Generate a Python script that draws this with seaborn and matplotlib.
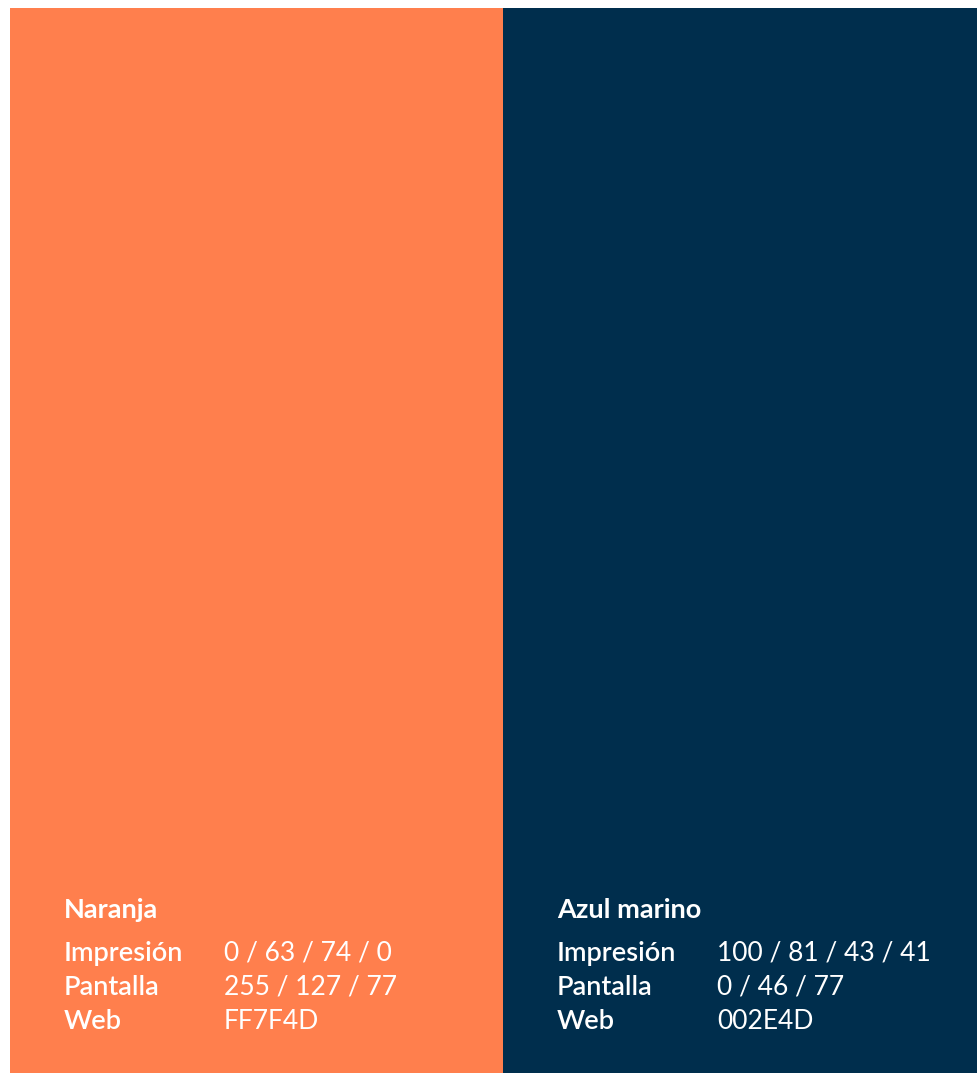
import matplotlib
matplotlib.use("Agg")
import matplotlib.pyplot as plt
import seaborn as sns
import pandas as pd

# ---- data ----
names = ["Naranja", "Azul marino"]
colors = ["#FF7F4D", "#002E4D"]
row_labels = ["Impresión", "Pantalla", "Web"]
impresion = ["0 / 63 / 74 / 0", "100 / 81 / 43 / 41"]
pantalla = ["255 / 127 / 77", "0 / 46 / 77"]
web = ["FF7F4D", "002E4D"]

sns.set_theme(style="white")
plt.rcParams["font.family"] = ["Lato", "DejaVu Sans"]

W, H = 977, 1073
fig = plt.figure(figsize=(W / 100, H / 100), dpi=100)
fig.patch.set_facecolor("white")

left, top = 10, 8
widths_px = [493, 474]
gs = fig.add_gridspec(1, 2, left=left / W, right=1.0, bottom=0.0, top=1 - top / H,
                      wspace=0, width_ratios=widths_px)

values = [impresion, pantalla, web]
x0 = left
for i, name in enumerate(names):
    ax = fig.add_subplot(gs[0, i])
    df = pd.DataFrame({"name": [name], "v": [1.0]})
    sns.barplot(data=df, x="name", y="v", hue="name", palette=[colors[i]],
                width=1.0, legend=False, ax=ax, saturation=1)
    ax.set_xlim(-0.5, 0.5)
    ax.set_ylim(0, 1)
    ax.axis("off")
    for p in ax.patches:
        p.set_edgecolor("none")
        p.set_linewidth(0)

    tx = x0 + 54
    vx = x0 + 214
    fig.text(tx / W, 1 - 918 / H, name, color="white", fontsize=19.5, fontweight="bold",
             ha="left", va="baseline", zorder=10)
    for j, lab in enumerate(row_labels):
        yb = 961 + j * 34
        fig.text(tx / W, 1 - yb / H, lab, color="white", fontsize=19.5, fontweight="semibold",
                 ha="left", va="baseline", zorder=10)
        fig.text(vx / W, 1 - yb / H, values[j][i], color="white", fontsize=19,
                 fontweight="normal", ha="left", va="baseline", zorder=10)
    x0 += widths_px[i]

fig.savefig("out.png", dpi=100, facecolor="white")
